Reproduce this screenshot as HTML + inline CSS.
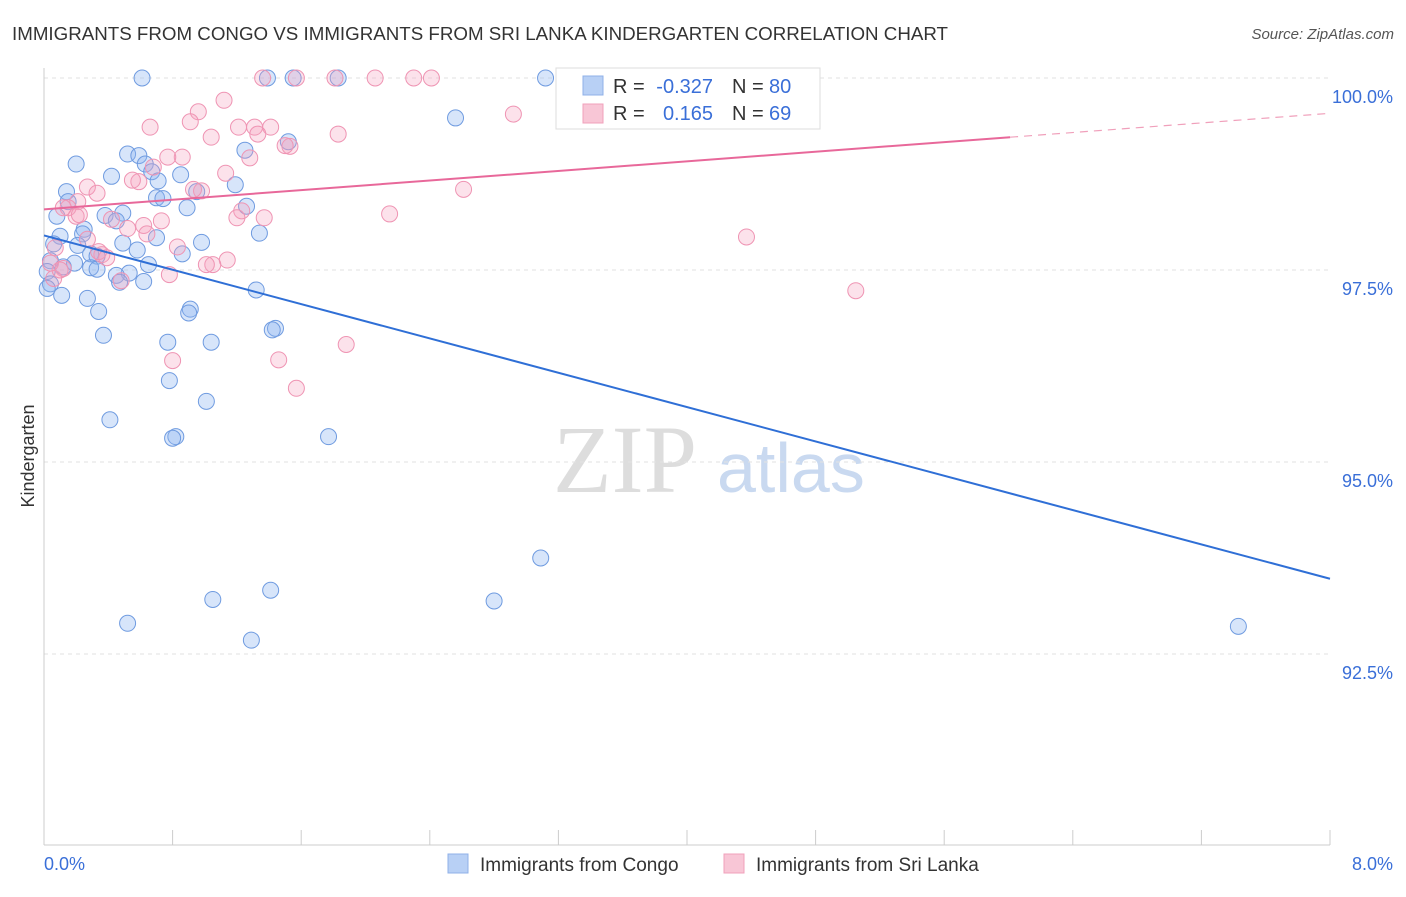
<!DOCTYPE html>
<html><head><meta charset="utf-8"><style>
body{margin:0;background:#fff;font-family:"Liberation Sans",sans-serif}
</style></head><body>
<svg id="chart" width="1406" height="892" xmlns="http://www.w3.org/2000/svg">
<text x="12" y="40" font-size="18" fill="#333" textLength="936" lengthAdjust="spacingAndGlyphs">IMMIGRANTS FROM CONGO VS IMMIGRANTS FROM SRI LANKA KINDERGARTEN CORRELATION CHART</text>
<text x="1394" y="39" font-size="15" fill="#555" font-style="italic" text-anchor="end">Source: ZipAtlas.com</text>
<text x="34" y="456" font-size="18" fill="#333" transform="rotate(-90 34 456)" text-anchor="middle">Kindergarten</text>
<g>
<text x="553" y="492" font-size="96" font-family="Liberation Serif,serif" fill="#ddd">ZIP</text>
<text x="717" y="492" font-size="70" fill="#c9d9f0">atlas</text></g>
<g id="grid"></g><g id="axes"></g><g id="pts"></g><g id="lines"></g>
<g font-size="20">
<rect x="556" y="68" width="264" height="61" fill="#fff" stroke="#ddd"/>
<rect x="583" y="76" width="20" height="19" fill="#b8d0f5" stroke="#8fb0e8"/>
<rect x="583" y="104" width="20" height="19" fill="#f8c6d6" stroke="#f0a0bb"/>
<text x="613" y="93" fill="#333">R =</text>
<text x="713" y="93" fill="#3a6fd8" text-anchor="end">-0.327</text>
<text x="732" y="93" fill="#333">N =</text>
<text x="769" y="93" fill="#3a6fd8">80</text>
<text x="613" y="120" fill="#333">R =</text>
<text x="713" y="120" fill="#3a6fd8" text-anchor="end">0.165</text>
<text x="732" y="120" fill="#333">N =</text>
<text x="769" y="120" fill="#3a6fd8">69</text>
</g>
<g>
<rect x="448" y="854" width="20" height="19" fill="#b8d0f5" stroke="#8fb0e8"/>
<text x="480" y="871" font-size="19" fill="#333">Immigrants from Congo</text>
<rect x="724" y="854" width="20" height="19" fill="#f8c6d6" stroke="#f0a0bb"/>
<text x="756" y="871" font-size="19" fill="#333">Immigrants from Sri Lanka</text>
</g>
</svg>
<script>
const xTicks=[0,8];
const yTicks=[92.5,95,97.5,100];
const congoX=[0.61,1.39,1.55,1.83,3.12,2.56,1.52,1.25,0.52,0.59,0.63,0.20,0.67,0.42,0.85,0.71,1.19,0.14,0.95,0.70,0.74,0.15,0.89,1.26,0.49,0.38,0.08,0.45,0.25,0.24,1.34,0.10,0.70,0.98,0.49,0.21,0.06,0.58,0.29,0.86,0.33,0.04,0.19,0.65,0.12,0.29,0.33,0.53,0.45,0.02,0.62,0.47,0.04,1.32,0.11,0.27,0.91,0.34,0.90,1.44,1.42,0.37,0.77,1.04,0.78,1.01,0.41,0.82,0.80,1.77,3.09,1.41,1.05,2.80,0.52,1.29,7.43,0.02];
const congoY=[100,100,100,100,100,99.48,99.17,99.06,99.01,98.99,98.88,98.88,98.78,98.72,98.74,98.66,98.61,98.52,98.52,98.44,98.43,98.39,98.31,98.33,98.24,98.21,98.20,98.14,98.03,97.97,97.98,97.94,97.92,97.86,97.85,97.82,97.84,97.76,97.71,97.71,97.68,97.62,97.59,97.57,97.54,97.53,97.51,97.46,97.43,97.48,97.35,97.34,97.32,97.24,97.17,97.13,96.99,96.96,96.94,96.74,96.72,96.65,96.56,96.56,96.06,95.79,95.55,95.33,95.31,95.33,93.75,93.33,93.21,93.19,92.90,92.68,92.86,97.26];
const lankaX=[1.36,1.57,1.81,2.06,2.30,2.41,2.92,1.12,0.96,0.91,0.66,1.21,1.31,1.41,1.04,1.83,1.33,1.53,0.86,0.77,1.28,0.68,1.13,0.59,0.55,0.27,0.33,0.98,0.93,2.61,0.21,0.15,0.12,1.23,2.15,1.20,1.37,0.73,0.20,0.42,0.62,0.52,0.27,4.37,0.07,0.83,0.36,0.34,0.39,1.14,1.05,1.01,0.12,0.78,0.06,0.48,5.05,1.88,0.80,1.46,1.57,0.10,0.04,1.50,0.64,0.22];
const lankaY=[100,100,100,100,100,100,99.53,99.71,99.56,99.43,99.36,99.36,99.36,99.36,99.23,99.27,99.27,99.11,98.97,98.97,98.96,98.84,98.76,98.65,98.67,98.58,98.50,98.53,98.55,98.55,98.39,98.31,98.31,98.27,98.23,98.18,98.18,98.14,98.20,98.16,98.08,98.04,97.90,97.93,97.79,97.80,97.70,97.74,97.66,97.63,97.57,97.57,97.52,97.44,97.39,97.36,97.23,96.53,96.32,96.33,95.96,97.50,97.59,99.12,97.97,98.22];
const blueTrend=[97.95,93.48];
const pinkTrend=[98.29,99.54];
const NS='http://www.w3.org/2000/svg';
const X=v=>44+v/8*1286, Y=v=>78+(100-v)/2.5*192;
function mk(t,a,p){const e=document.createElementNS(NS,t);for(const k in a)e.setAttribute(k,a[k]);p.appendChild(e);return e;}
const grid=document.getElementById('grid'),axes=document.getElementById('axes');
yTicks.forEach(v=>{
 const l=mk('line',{x1:44,x2:1330,y1:Y(v),y2:Y(v),stroke:'#e2e2e2','stroke-dasharray':'4 4'},grid);
 
 
 const t=mk('text',{x:1393,y:Y(v)+25,'font-size':18,fill:'#3a6fd8','text-anchor':'end'},grid);
 t.textContent=v.toFixed(1)+'%';
 
 
});
mk('line',{x1:44,x2:44,y1:68,y2:845,stroke:'#ccc'},axes);
mk('line',{x1:44,x2:1330,y1:845,y2:845,stroke:'#ccc'},axes);
for(let i=0;i<=10;i++){const x=X(i*0.8);mk('line',{x1:x,x2:x,y1:830,y2:845,stroke:'#ccc'},axes);}
xTicks.forEach((v,i)=>{
 const t=mk('text',{x:i?1393:44,y:870,'font-size':18,fill:'#3a6fd8','text-anchor':i?'end':'start'},axes);
 t.textContent=v.toFixed(1)+'%';
 
 
});
const pts=document.getElementById('pts');
congoX.forEach((v,i)=>{
 const c=mk('circle',{cx:X(v),cy:Y(congoY[i]),r:8,fill:'rgba(140,180,240,0.35)',stroke:'#6f9be0','stroke-width':1},pts);
 
 
});
lankaX.forEach((v,i)=>{
 const c=mk('circle',{cx:X(v),cy:Y(lankaY[i]),r:8,fill:'rgba(245,160,190,0.3)',stroke:'#ef94b3','stroke-width':1},pts);
 
 
});
const ln=document.getElementById('lines');
const b=mk('line',{x1:X(0),y1:Y(blueTrend[0]),x2:X(8),y2:Y(blueTrend[1]),stroke:'#2f6fd6','stroke-width':2},ln);


const pk=v=>pinkTrend[0]+(pinkTrend[1]-pinkTrend[0])*v/8;
const p1=mk('line',{x1:X(0),y1:Y(pk(0)),x2:X(6.01),y2:Y(pk(6.01)),stroke:'#e8689a','stroke-width':2},ln);


const p2=mk('line',{x1:X(6.01),y1:Y(pk(6.01)),x2:X(8),y2:Y(pk(8)),stroke:'#f0a0bb','stroke-width':1.2,'stroke-dasharray':'8 6'},ln);


</script>
</body></html>
